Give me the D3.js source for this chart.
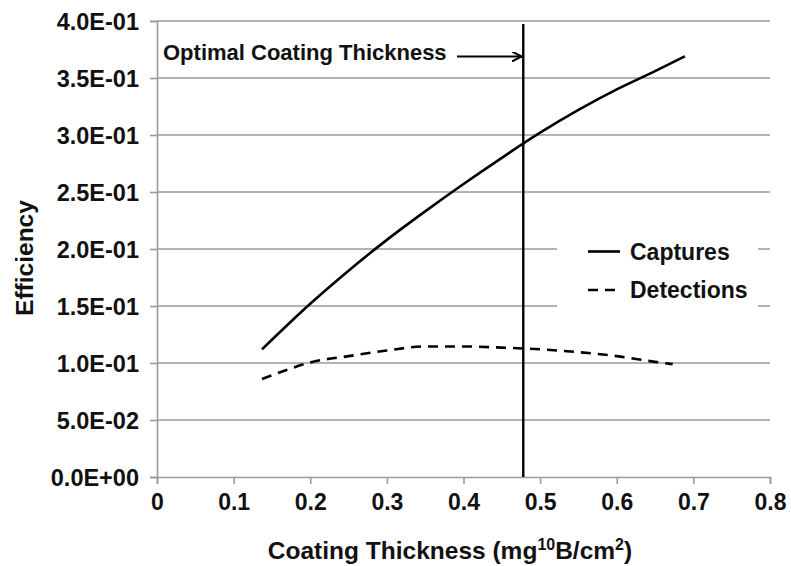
<!DOCTYPE html>
<html>
<head>
<meta charset="utf-8">
<script src="https://cdn.jsdelivr.net/npm/d3@7"></script>
<style>
  body { margin: 0; background: #fff; }
  svg { display: block; }
  text { font-family: "Liberation Sans", Arial, sans-serif; font-weight: bold; fill: #111; }
</style>
</head>
<body>
<svg id="chart" width="791" height="566"></svg>
<script>
// ---- data ----
const capturesX = [0.137, 0.2, 0.25, 0.3, 0.35, 0.4, 0.45, 0.5, 0.55, 0.6, 0.65, 0.689];
const capturesY = [0.112, 0.152, 0.181, 0.208, 0.233, 0.257, 0.280, 0.302, 0.322, 0.340, 0.356, 0.369];
const detectionsX = [0.137, 0.17, 0.2, 0.25, 0.3, 0.35, 0.4, 0.45, 0.5, 0.55, 0.6, 0.65, 0.673];
const detectionsY = [0.086, 0.094, 0.1005, 0.106, 0.111, 0.1145, 0.1145, 0.1135, 0.112, 0.1095, 0.106, 0.101, 0.099];
const xTicks = [0, 0.1, 0.2, 0.3, 0.4, 0.5, 0.6, 0.7, 0.8];
const yTicks = [0, 0.05, 0.10, 0.15, 0.20, 0.25, 0.30, 0.35, 0.40];
const yTickLabels = ["0.0E+00", "5.0E-02", "1.0E-01", "1.5E-01", "2.0E-01", "2.5E-01", "3.0E-01", "3.5E-01", "4.0E-01"];
const optimalX = 0.478;
const annotationText = "Optimal Coating Thickness";
const seriesNames = ["Captures", "Detections"];

// ---- layout ----
const svg = d3.select("#chart");
const mLeft = 157, mRight = 770, mTop = 21, mBottom = 477;
const x = d3.scaleLinear().domain([0, 0.8]).range([mLeft, mRight]);
const y = d3.scaleLinear().domain([0, 0.4]).range([mBottom, mTop]);
const grey = "#9a9a9a";

// gridlines
svg.append("g").selectAll("line").data(yTicks.filter(d => d > 0)).join("line")
  .attr("x1", mLeft).attr("x2", mRight)
  .attr("y1", d => y(d)).attr("y2", d => y(d))
  .attr("stroke", grey).attr("stroke-width", 1.6);

// y axis
const yAxis = svg.append("g").attr("transform", `translate(${mLeft},0)`)
  .call(d3.axisLeft(y).tickValues(yTicks).tickSize(7).tickPadding(11)
    .tickFormat((d, i) => yTickLabels[i]));
yAxis.select(".domain").attr("stroke", grey).attr("stroke-width", 1.6);
yAxis.selectAll(".tick line").attr("stroke", grey).attr("stroke-width", 1.6);
yAxis.selectAll("text").attr("font-size", 23.5).attr("font-family", null).attr("fill", "#111").attr("dy", "0.36em");

// x axis
const xAxis = svg.append("g").attr("transform", `translate(0,${mBottom})`)
  .call(d3.axisBottom(x).tickValues(xTicks).tickSize(7).tickPadding(10)
    .tickFormat(d => d === 0 ? "0" : d3.format(".1f")(d)));
xAxis.select(".domain").attr("stroke", grey).attr("stroke-width", 1.6);
xAxis.selectAll(".tick line").attr("stroke", grey).attr("stroke-width", 1.6);
xAxis.selectAll("text").attr("font-size", 23).attr("font-family", null).attr("fill", "#111");

// legend box (covers gridlines)
const lgX = 557, lgY = 232;
svg.append("rect").attr("x", lgX).attr("y", lgY).attr("width", 201).attr("height", 86).attr("fill", "#fff");

// lines
const line = d3.line().x(d => x(d[0])).y(d => y(d[1])).curve(d3.curveMonotoneX);
const capData = capturesX.map((v, i) => [v, capturesY[i]]);
const detData = detectionsX.map((v, i) => [v, detectionsY[i]]);

svg.append("path").datum(capData).attr("d", line)
  .attr("fill", "none").attr("stroke", "#000").attr("stroke-width", 2.6);
svg.append("path").datum(detData).attr("d", line)
  .attr("fill", "none").attr("stroke", "#000").attr("stroke-width", 2.6)
  .attr("stroke-dasharray", "10,7");

// optimal line
svg.append("line").attr("x1", x(optimalX)).attr("x2", x(optimalX))
  .attr("y1", 24).attr("y2", mBottom).attr("stroke", "#000").attr("stroke-width", 2.4);

// annotation
svg.append("defs").append("marker").attr("id", "arr")
  .attr("viewBox", "0 0 10 10").attr("refX", 10).attr("refY", 5)
  .attr("markerWidth", 10).attr("markerHeight", 10).attr("markerUnits", "userSpaceOnUse")
  .attr("orient", "auto")
  .append("path").attr("d", "M0,0 L10,5 L0,10").attr("fill", "none").attr("stroke", "#000").attr("stroke-width", 2);
svg.append("text").attr("x", 163).attr("y", 52).attr("dy", "0.36em")
  .attr("font-size", 22).text(annotationText);
svg.append("line").attr("x1", 457).attr("x2", x(optimalX) - 1.5)
  .attr("y1", 56.5).attr("y2", 56.5).attr("stroke", "#000").attr("stroke-width", 2)
  .attr("marker-end", "url(#arr)");

// legend entries
seriesNames.forEach((name, i) => {
  const cy = 251.5 + i * 38.5;
  svg.append("line").attr("x1", 588).attr("x2", 620).attr("y1", cy).attr("y2", cy)
    .attr("stroke", "#000").attr("stroke-width", 2.6)
    .attr("stroke-dasharray", i === 1 ? "10,7" : null);
  svg.append("text").attr("x", 630).attr("y", cy).attr("dy", "0.36em")
    .attr("font-size", 23).text(name);
});

// axis titles
const xt = svg.append("text").attr("x", 450).attr("y", 559)
  .attr("text-anchor", "middle").attr("font-size", 24.5);
xt.append("tspan").text("Coating Thickness (mg");
xt.append("tspan").attr("font-size", 16).attr("dy", -9).text("10");
xt.append("tspan").attr("dy", 9).text("B/cm");
xt.append("tspan").attr("font-size", 16).attr("dy", -9).text("2");
xt.append("tspan").attr("dy", 9).text(")");

svg.append("text").attr("transform", "translate(24,258) rotate(-90)")
  .attr("text-anchor", "middle").attr("dy", "0.36em").attr("font-size", 24.5).text("Efficiency");
</script>
</body>
</html>
